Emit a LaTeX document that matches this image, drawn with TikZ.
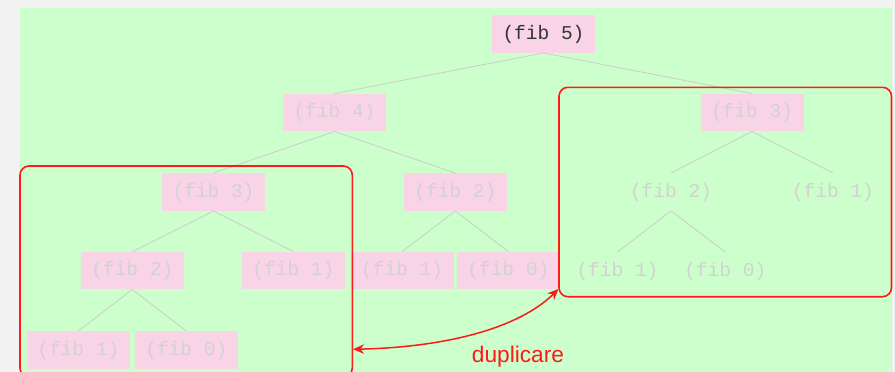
\documentclass[tikz,border=0pt]{standalone}
\usepackage{fontspec}
\setmonofont{Liberation Mono}
\newfontfamily\labelfont{Liberation Sans}
\usetikzlibrary{arrows.meta}
\definecolor{pagebg}{HTML}{F2F2F2}
\definecolor{panelgreen}{HTML}{CCFFCC}
\definecolor{nodepink}{HTML}{F9D3E6}
\definecolor{edgegray}{HTML}{CCCCCC}
\definecolor{fadetext}{HTML}{D2D2D2}
\definecolor{darktext}{HTML}{333333}
\definecolor{markred}{HTML}{FF1A1A}
\tikzset{
  callbox/.style={minimum width=103pt, minimum height=37.5pt, inner sep=0pt,
    font=\ttfamily\fontsize{19.5}{22}\selectfont, text=fadetext},
  pinkbox/.style={callbox, fill=nodepink},
  livebox/.style={pinkbox, text=darktext},
  treeedge/.style={draw=edgegray, line width=0.8pt},
  groupbox/.style={draw=markred, line width=1.6pt, rounded corners=9pt},
  duparrow/.style={draw=markred, line width=1.5pt, {Stealth[length=11pt,width=9.5pt]}-{Stealth[length=11pt,width=9.5pt]}}
}
\begin{document}
\begin{tikzpicture}[x=1pt,y=-1pt]
\useasboundingbox (0,0) rectangle (895,372);
\clip (0,0) rectangle (895,372);
\fill[pagebg] (0,0) rectangle (895,372);
\fill[panelgreen] (20,8) rectangle (892,380);

% nodes
\node[livebox] (f5) at (543.5,34) {(fib 5)};
\node[pinkbox] (f4) at (334.5,112.5) {(fib 4)};
\node[pinkbox] (f3r) at (752,112.5) {(fib 3)};
\node[pinkbox] (f3l) at (213.5,192) {(fib 3)};
\node[pinkbox] (f2m) at (455.3,192) {(fib 2)};
\node[callbox] (f2r) at (671,192) {(fib 2)};
\node[callbox] (f1r) at (833,192) {(fib 1)};
\node[pinkbox] (f2l) at (132.3,270.5) {(fib 2)};
\node[pinkbox] (f1l) at (293.3,270.5) {(fib 1)};
\node[pinkbox] (f1m) at (402.2,270.5) {(fib 1)};
\node[pinkbox] (f0m) at (508.3,270.5) {(fib 0)};
\node[callbox] (f1rr) at (617.5,271) {(fib 1)};
\node[callbox] (f0rr) at (725.3,271) {(fib 0)};
\node[pinkbox] (f1ll) at (78.3,350) {(fib 1)};
\node[pinkbox] (f0ll) at (186.3,350) {(fib 0)};

% edges
\path[treeedge] (f5.south) -- (f4.north);
\path[treeedge] (f5.south) -- (f3r.north);
\path[treeedge] (f4.south) -- (f3l.north);
\path[treeedge] (f4.south) -- (f2m.north);
\path[treeedge] (f3l.south) -- (f2l.north);
\path[treeedge] (f3l.south) -- (f1l.north);
\path[treeedge] (f2l.south) -- (f1ll.north);
\path[treeedge] (f2l.south) -- (f0ll.north);
\path[treeedge] (f2m.south) -- (f1m.north);
\path[treeedge] (f2m.south) -- (f0m.north);
\path[treeedge] (f3r.south) -- (f2r.north);
\path[treeedge] (f3r.south) -- (f1r.north);
\path[treeedge] (f2r.south) -- (f1rr.north);
\path[treeedge] (f2r.south) -- (f0rr.north);

% groups
\draw[groupbox] (20,166) rectangle (352.3,377);
\draw[groupbox] (559,87.3) rectangle (891.5,296.7);
\coordinate (leftend) at (353,349.3);
\coordinate (rightend) at (558.5,289);
\draw[duparrow] (leftend) .. controls (450,347) and (520,327) .. (rightend);
\node[text=markred, font=\labelfont\fontsize{22.7}{26}\selectfont, anchor=base] (dup) at (518,362.7) {duplicare};
\end{tikzpicture}
\end{document}
